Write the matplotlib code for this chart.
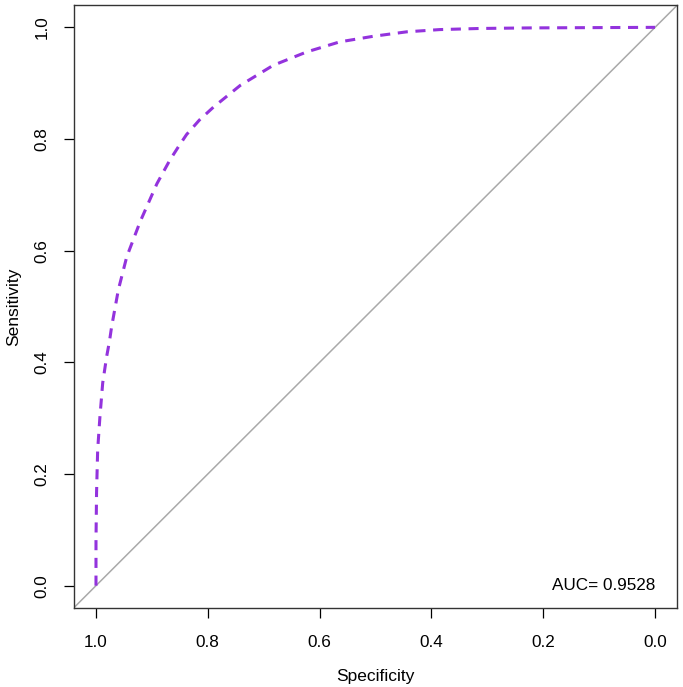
import matplotlib
matplotlib.use("Agg")
import matplotlib.pyplot as plt

# ROC curve points (specificity, sensitivity)
specificity = [1.0, 1.0, 0.999, 0.997, 0.993, 0.988, 0.981, 0.976, 0.972, 0.960,
               0.945, 0.921, 0.891, 0.868, 0.852, 0.838, 0.815, 0.790, 0.742, 0.683,
               0.623, 0.564, 0.504, 0.444, 0.385, 0.313, 0.224, 0.0]
sensitivity = [0.0, 0.08, 0.166, 0.243, 0.302, 0.363, 0.410, 0.437, 0.464, 0.530,
               0.589, 0.652, 0.720, 0.762, 0.787, 0.808, 0.834, 0.857, 0.896, 0.932,
               0.956, 0.974, 0.984, 0.992, 0.996, 0.998, 0.999, 1.0]
auc = 0.9528
ticks = [1.0, 0.8, 0.6, 0.4, 0.2, 0.0]

plt.rcParams['font.family'] = ['Liberation Sans', 'DejaVu Sans']

fig = plt.figure(figsize=(6.83, 6.87), dpi=100)
ax = fig.add_axes([0.1078, 0.115, 0.884, 0.8777])

# identity line across the whole plot
ax.axline((1, 0), (0, 1), color='#A9A9A9', lw=1.1, zorder=1)
ax.plot(specificity, sensitivity, color='#9333DD', lw=2.2,
        dashes=(3.3, 2.5), zorder=2)

ax.set_xlim(1.04, -0.04)
ax.set_ylim(-0.04, 1.04)
ax.set_xticks(ticks)
ax.set_yticks(ticks)
ax.set_xticklabels([f'{t:.1f}' for t in ticks])
ax.set_yticklabels([f'{t:.1f}' for t in ticks], rotation=90, va='center')
ax.tick_params(direction='out', length=7.2, width=0.9, labelsize=12.3)
ax.tick_params(axis='x', pad=12)
ax.tick_params(axis='y', pad=10)
for s in ax.spines.values():
    s.set_linewidth(1.0)
    s.set_color('#333333')

ax.set_xlabel('Specificity', fontsize=12.5, labelpad=14)
ax.set_ylabel('Sensitivity', fontsize=12.5, labelpad=10)

ax.text(0.0, 0.0, f'AUC= {auc}', ha='right', va='center', fontsize=12.3)

fig.savefig('out.png', dpi=100)
